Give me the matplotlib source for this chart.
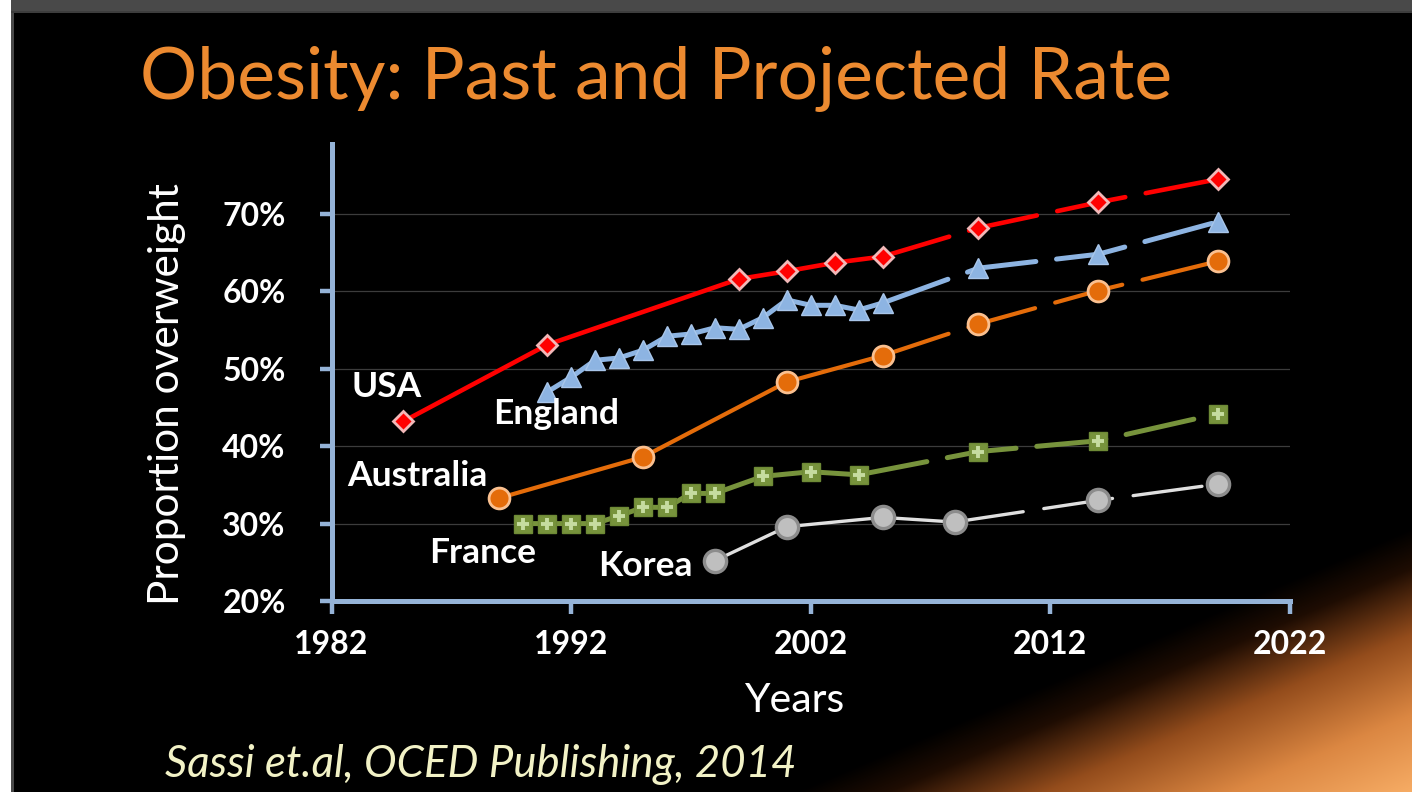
import numpy as np
import matplotlib
matplotlib.use("Agg")
import matplotlib.pyplot as plt
from matplotlib.ticker import FuncFormatter

# ---------------- data ----------------
usa_years = [1985, 1991, 1999, 2001, 2003, 2005, 2009, 2014, 2019]
usa_vals = [43.2, 53.1, 61.6, 62.6, 63.7, 64.5, 68.2, 71.5, 74.5]
usa_proj_from = 2005

england_years = [1991, 1992, 1993, 1994, 1995, 1996, 1997, 1998, 1999, 2000,
                 2001, 2002, 2003, 2004, 2005, 2009, 2014, 2019]
england_vals = [47.0, 48.9, 51.1, 51.4, 52.4, 54.2, 54.5, 55.3, 55.1, 56.6,
                58.9, 58.2, 58.2, 57.6, 58.5, 63.0, 64.8, 69.0]
england_proj_from = 2005

australia_years = [1989, 1995, 2001, 2005, 2009, 2014, 2019]
australia_vals = [33.3, 38.6, 48.3, 51.7, 55.8, 60.1, 63.9]
australia_proj_from = 2005

france_years = [1990, 1991, 1992, 1993, 1994, 1995, 1996, 1997, 1998, 2000,
                2002, 2004, 2009, 2014, 2019]
france_vals = [30.0, 30.0, 30.0, 30.0, 31.0, 32.1, 32.1, 33.9, 33.9, 36.1,
               36.7, 36.3, 39.3, 40.7, 44.2]
france_proj_from = 2004

korea_years = [1998, 2001, 2005, 2008, 2014, 2019]
korea_vals = [25.2, 29.6, 30.8, 30.2, 33.0, 35.1]
korea_proj_from = 2008

x_ticks = [1982, 1992, 2002, 2012, 2022]
y_ticks = [20, 30, 40, 50, 60, 70]

title_text = "Obesity: Past and Projected Rate"
x_label = "Years"
y_label = "Proportion overweight"
citation = "Sassi et.al, OCED Publishing, 2014"

# ---------------- figure ----------------
W, H = 1412, 792
plt.rcParams['font.family'] = ['Lato', 'DejaVu Sans']
plt.rcParams['lines.scale_dashes'] = False
fig = plt.figure(figsize=(W / 100, H / 100), dpi=100)
fig.patch.set_facecolor('white')

# background image (slide frame + orange glow)
yy, xx = np.mgrid[0:H, 0:W].astype(float)
s = (xx - 870) * 0.393 + (yy - 792) * 0.919
t = np.clip((s + 30) / 245.0, 0, 1)
stops_t = [0.0, 0.15, 0.4, 0.7, 1.0]
stops_c = np.array([[0.0, 0.0, 0.0],
                    [0.12, 0.05, 0.01],
                    [0.58, 0.30, 0.11],
                    [0.86, 0.53, 0.26],
                    [0.97, 0.68, 0.40]])
bg = np.stack([np.interp(t, stops_t, stops_c[:, i]) for i in range(3)], axis=-1)
bg[:, :11] = 1.0
bg[:, 11:14] = 0.29
bg[:11, 11:] = 0.29
bg[11:13, 11:] = 0.24
bgax = fig.add_axes([0, 0, 1, 1], zorder=-10)
bgax.imshow(bg, extent=[0, W, H, 0], aspect='auto', interpolation='bilinear')
bgax.set_xlim(0, W)
bgax.set_ylim(H, 0)
bgax.axis('off')

# main axes
left, right = 331.5 / W, 1290 / W
bottom, top = 1 - 601 / H, 1 - 144.3 / H
ax = fig.add_axes([left, bottom, right - left, top - bottom])
ax.patch.set_visible(False)
ax.set_xlim(1982, 2022)
ax.set_ylim(20, 79)

axis_col = '#95b3d7'
for sp in ['top', 'right']:
    ax.spines[sp].set_visible(False)
for sp in ['left', 'bottom']:
    ax.spines[sp].set_color(axis_col)
    ax.spines[sp].set_linewidth(3.6)
    ax.spines[sp].set_capstyle('projecting')

ax.set_xticks(x_ticks)
ax.set_yticks(y_ticks)
ax.tick_params(axis='both', direction='out', colors=axis_col, length=9, width=3.2)
ax.tick_params(axis='x', pad=12)
ax.tick_params(axis='y', pad=24)
for lab in ax.get_xticklabels() + ax.get_yticklabels():
    lab.set_color('white')
    lab.set_fontweight('bold')
    lab.set_fontsize(23)
ax.yaxis.set_major_formatter(FuncFormatter(lambda v, p: f"{v:.0f}%"))
ax.grid(axis='y', color='#3c3c3c', linewidth=0.9)
ax.set_axisbelow(True)

DASH = (50, 15)


def draw_series(years, vals, split, color, lw, mstyle):
    years = np.array(years)
    vals = np.array(vals)
    k = int(np.where(years == split)[0][0])
    ax.plot(years[:k + 1], vals[:k + 1], color=color, lw=lw,
            solid_capstyle='round', solid_joinstyle='round', zorder=3)
    ln, = ax.plot(years[k:], vals[k:], color=color, lw=lw,
                  dash_capstyle='round', zorder=3)
    ln.set_dashes(DASH)
    ax.plot(years, vals, linestyle='none', zorder=4, **mstyle)
    return years, vals


draw_series(usa_years, usa_vals, usa_proj_from, '#ff0000', 3.3,
            dict(marker='D', ms=10.5, mfc='#ff0000', mec='#f2b8b8', mew=2.0))
draw_series(england_years, england_vals, england_proj_from, '#8db4e2', 3.6,
            dict(marker='^', ms=14, mfc='#8db4e2', mec='#a9c6ea', mew=1.0))
draw_series(australia_years, australia_vals, australia_proj_from, '#e46c0a', 3.0,
            dict(marker='o', ms=15, mfc='#e46c0a', mec='#fac090', mew=2.0))
fy, fv = draw_series(france_years, france_vals, france_proj_from, '#77933c', 3.6,
                     dict(marker='s', ms=13, mfc='#77933c', mec='#6e8a36', mew=1.0))
ax.plot(fy, fv, linestyle='none', marker='+', ms=9, mec='#c6dca0', mew=2.8, zorder=5)
draw_series(korea_years, korea_vals, korea_proj_from, '#e0e0e0', 2.4,
            dict(marker='o', ms=16, mfc='#bfbfbf', mec='#8c8c8c', mew=2.4))

# series labels
def fx(px):
    return px / W


def fy_(py):
    return 1 - py / H


lab_kw = dict(color='white', fontsize=25.5, fontweight='bold', ha='center', va='center')
fig.text(fx(387), fy_(387), "USA", **lab_kw)
fig.text(fx(556), fy_(414), "England", **lab_kw)
fig.text(fx(417), fy_(476), "Australia", **lab_kw)
fig.text(fx(483), fy_(553), "France", **lab_kw)
fig.text(fx(645), fy_(566), "Korea", **lab_kw)

# titles and labels
fig.text(fx(140), fy_(99), title_text, color='#ec8a30', fontsize=51.5,
         ha='left', va='baseline')
fig.text(fx(167), fy_(394), y_label, color='white', fontsize=30.5,
         rotation=90, ha='center', va='center')
fig.text(fx(794), fy_(700), x_label, color='white', fontsize=29.5,
         ha='center', va='center')
fig.text(fx(165), fy_(777), citation, color='#f2f2c6', fontsize=31.5,
         style='italic', ha='left', va='baseline')

fig.savefig('out.png', dpi=100, facecolor=fig.get_facecolor())
